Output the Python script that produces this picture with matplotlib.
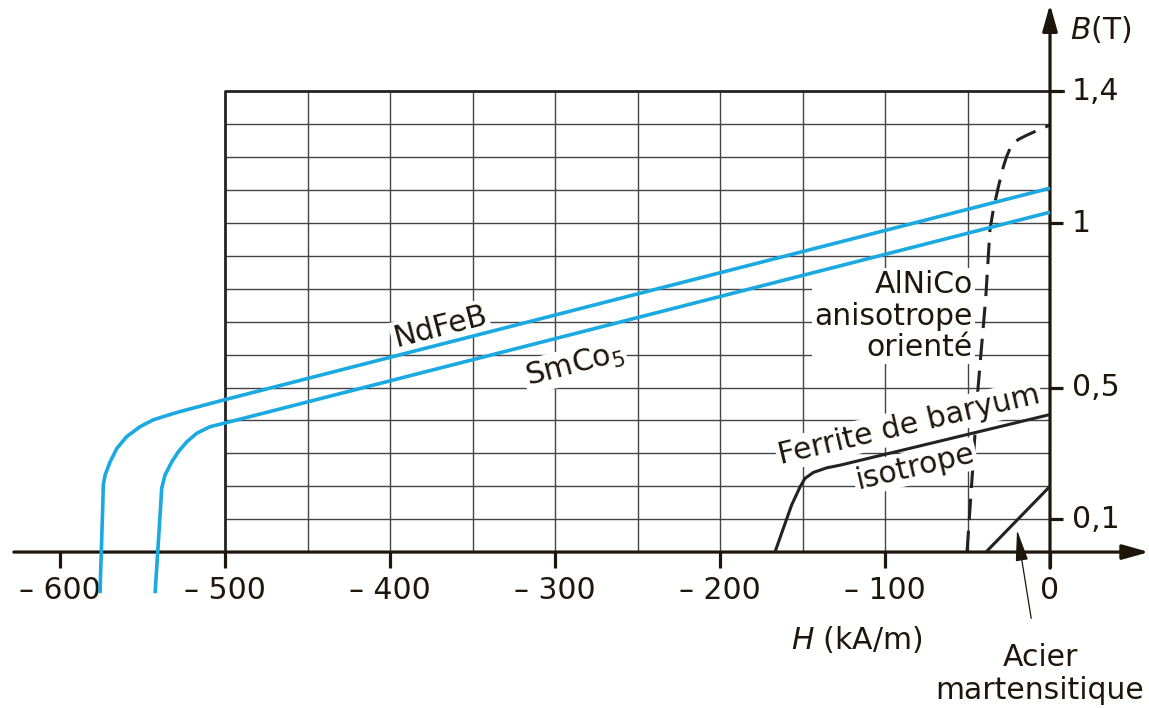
import numpy as np
import matplotlib.pyplot as plt

plt.rcParams['font.family'] = ['DejaVu Sans']

# courbes de desaimantation (H en kA/m, B en T)
ndfeb_H = [0, -501, -527.3, -535.3, -543.5, -551.5, -559.6, -565.6, -569.7,
           -572.7, -573.8, -574.1, -575.8]
ndfeb_B = [1.106, 0.462, 0.427, 0.415, 0.402, 0.381, 0.351, 0.315, 0.274,
           0.234, 0.204, 0.143, -0.125]

smco_H = [0, -501, -509.1, -517.2, -523.2, -528.3, -532.3, -536.4, -538.4,
          -539.0, -542.4]
smco_B = [1.033, 0.391, 0.381, 0.361, 0.335, 0.305, 0.274, 0.234, 0.194,
          0.143, -0.125]

ferrite_H = [0, -127.3, -135.3, -143.4, -148.5, -151.5, -156.6, -166.7]
ferrite_B = [0.418, 0.264, 0.256, 0.242, 0.224, 0.198, 0.143, 0.0]

acier_H = [-38.8, 0]
acier_B = [0.0, 0.2]

alnico_H = [-50.3, -47.3, -43.6, -39, -36.4, -34.4, -31.3, -28.3, -26.3,
            -24.2, -22.2, -19.2, -14.1, -6.1, 0]
alnico_B = [0.0, 0.22, 0.5, 0.77, 0.979, 1.040, 1.110, 1.171, 1.202,
            1.227, 1.242, 1.254, 1.267, 1.285, 1.298]

x_ticks = [-600, -500, -400, -300, -200, -100, 0]
x_labels = ['\u2013 600', '\u2013 500', '\u2013 400', '\u2013 300', '\u2013 200', '\u2013 100', '0']
y_ticks = [1.4, 1, 0.5, 0.1]
y_labels = ['1,4', '1', '0,5', '0,1']

grid_H = np.arange(-450, 0, 50)
grid_B = np.arange(0.1, 1.35, 0.1)

ink = '#1e160a'
blue = '#1aa9e1'
fs = 21.5

fig = plt.figure(figsize=(11.49, 7.08), dpi=100)
ax = fig.add_axes([0, 0, 1, 1])
ax.set_xlim(-636.4, 60)
ax.set_ylim(-0.474, 1.678)
ax.axis('off')

# quadrillage
ax.vlines(grid_H, 0, 1.4, color='#444444', lw=1.0, zorder=1)
ax.hlines(grid_B, -500, 0, color='#444444', lw=1.0, zorder=1)
ax.plot([-500, -500, 8], [0, 1.4, 1.4], color='#222222', lw=2.0, zorder=2)

# axes avec fleches
ax.annotate('', xy=(60, 0), xytext=(-628, 0),
            arrowprops=dict(arrowstyle='-|>,head_length=1.6,head_width=0.45',
                            lw=2.3, color=ink, shrinkA=0, shrinkB=0), zorder=5)
ax.annotate('', xy=(0, 1.665), xytext=(0, -0.049),
            arrowprops=dict(arrowstyle='-|>,head_length=1.6,head_width=0.45',
                            lw=2.3, color=ink, shrinkA=0, shrinkB=0), zorder=5)
ax.vlines(x_ticks, -0.049, 0, color=ink, lw=2.3, zorder=5)
ax.hlines(y_ticks, 0, 8, color=ink, lw=2.3, zorder=5)

for xt, lab in zip(x_ticks, x_labels):
    ax.text(xt, -0.116, lab, ha='center', va='center', fontsize=fs, color=ink)
for yt, lab in zip(y_ticks, y_labels):
    ax.text(13.3, yt, lab, ha='left', va='center', fontsize=fs, color=ink)

ax.text(12.1, 1.587, '$B$(T)', ha='left', va='center', fontsize=fs, color=ink)
ax.text(-117, -0.267, '$H$ (kA/m)', ha='center', va='center', fontsize=fs, color=ink)

# courbe AlNiCo (pointillee) sous les etiquettes
ax.plot(alnico_H, alnico_B, color='#222222', lw=2.2, dashes=(7, 3.5), zorder=3)

box = dict(facecolor='white', edgecolor='none', pad=1.5)
ax.text(-369.7, 0.684, 'NdFeB', rotation=14.5, ha='center', va='center',
        fontsize=fs, color=ink, bbox=box, zorder=4)
ax.text(-287.9, 0.568, 'SmCo$_5$', rotation=14.5, ha='center', va='center',
        fontsize=fs, color=ink, bbox=box, zorder=4)
ax.text(-46.7, 0.717, 'AlNiCo\nanisotrope\norienté', ha='right', va='center',
        multialignment='right', linespacing=1.1, fontsize=fs, color=ink,
        bbox=box, zorder=4)
ax.text(-85.5, 0.386, 'Ferrite de baryum', rotation=13.3, ha='center', va='center',
        fontsize=fs, color=ink, bbox=box, zorder=4)
ax.text(-81.8, 0.258, 'isotrope', rotation=13.3, ha='center', va='center',
        fontsize=fs, color=ink, bbox=box, zorder=4)

# courbes pleines
for h, b, c, w in [(ndfeb_H, ndfeb_B, blue, 2.6), (smco_H, smco_B, blue, 2.6),
                   (ferrite_H, ferrite_B, '#222222', 2.2),
                   (acier_H, acier_B, '#222222', 2.2)]:
    ax.plot(h, b, color=c, lw=w, zorder=6, solid_capstyle='butt',
            solid_joinstyle='round')

ax.annotate('Acier\nmartensitique', xy=(-20, 0.067), xytext=(-6, -0.37),
            ha='center', va='center', fontsize=fs, color=ink, linespacing=1.15,
            arrowprops=dict(arrowstyle='-|>,head_length=0.9,head_width=0.18',
                            lw=0.9, color=ink, shrinkA=16, shrinkB=0))

fig.savefig('out.png', dpi=100)
